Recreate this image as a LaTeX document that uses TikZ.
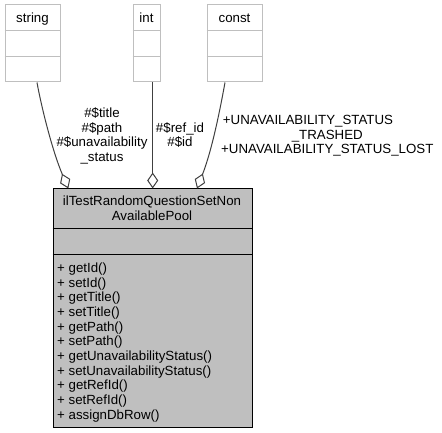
\documentclass[tikz,border=0pt]{standalone}
\usepackage{fontspec}
\setmainfont{Liberation Sans}
\usetikzlibrary{arrows.meta}
\definecolor{boxgray}{RGB}{191,191,191}
\definecolor{edgegray}{RGB}{64,64,64}
\begin{document}
\begin{tikzpicture}[x=1pt,y=-1pt,
  every node/.style={font=\fontsize{13.3}{14.7}\selectfont, inner sep=0pt, text=black},
  typebox/.style={draw=boxgray, fill=white, line width=1pt, minimum height=77pt},
  typesep/.style={draw=boxgray, line width=1pt},
  mainbox/.style={draw=black, fill=boxgray, line width=1pt, minimum width=199pt, minimum height=238pt},
  mainsep/.style={draw=black, line width=1pt},
  uses/.style={draw=edgegray, line width=1pt, -{Diamond[open, length=16pt, width=11pt]}},
  lbl/.style={anchor=base},
]
\useasboundingbox (0,0) rectangle (442,433);

% type boxes
\node[typebox, minimum width=55pt] (string) at (32.5,43.5) {};
\node[typebox, minimum width=27pt] (int) at (146.5,43.5) {};
\node[typebox, minimum width=55pt] (const) at (234.5,43.5) {};
\foreach \b in {string,int,const}{
  \draw[typesep] ([yshift=-26pt]\b.north west) -- ([yshift=-26pt]\b.north east);
  \draw[typesep] ([yshift=-52pt]\b.north west) -- ([yshift=-52pt]\b.north east);
}
\node[lbl] (stringname) at (32.5,22.5) {string};
\node[lbl] (intname) at (146.5,22.5) {int};
\node[lbl] (constname) at (234.5,22.5) {const};

% main class box
\node[mainbox] (main) at (152.5,308) {};
\draw[mainsep] ([yshift=-40pt]main.north west) -- ([yshift=-40pt]main.north east);
\draw[mainsep] ([yshift=-66pt]main.north west) -- ([yshift=-66pt]main.north east);
\node[lbl] (title1) at (152,205.7) {ilTestRandomQuestionSetNon};
\node[lbl] (title2) at (152,220.3) {AvailablePool};
\foreach \t [count=\i] in {getId(), setId(), getTitle(), setTitle(), getPath(), setPath(), getUnavailabilityStatus(), setUnavailabilityStatus(), getRefId(), setRefId(), assignDbRow()}{
  \node[anchor=base west] (m\i) at (57,{272.6+14.67*(\i-1)}) {+ \t};
}

% connectors
\draw[uses] ([xshift=4.5pt]string.south) .. controls (41,105) and (52,150) .. ([xshift=-84.2pt]main.north);
\draw[uses] ([xshift=6.2pt]int.south) -- ([xshift=0.2pt]main.north);
\draw[uses] ([xshift=-9.5pt]const.south) .. controls (220,110) and (212,150) .. ([xshift=44.5pt]main.north);

% connector labels
\node[lbl] (s1) at (102,117.5) {\#\$title};
\node[lbl] (s2) at (102,132.2) {\#\$path};
\node[lbl] (s3) at (102,146.9) {\#\$unavailability};
\node[lbl] (s4) at (102,161.6) {\_status};
\node[lbl] (i1) at (180,132.2) {\#\$ref\_id};
\node[lbl] (i2) at (180,146.9) {\#\$id};
\node[anchor=base west] (c1) at (222.7,124.6) {+UNAVAILABILITY\_STATUS};
\node[lbl] (c2) at (327.3,139.3) {\_TRASHED};
\node[lbl] (c3) at (327.3,154) {+UNAVAILABILITY\_STATUS\_LOST};
\end{tikzpicture}
\end{document}
